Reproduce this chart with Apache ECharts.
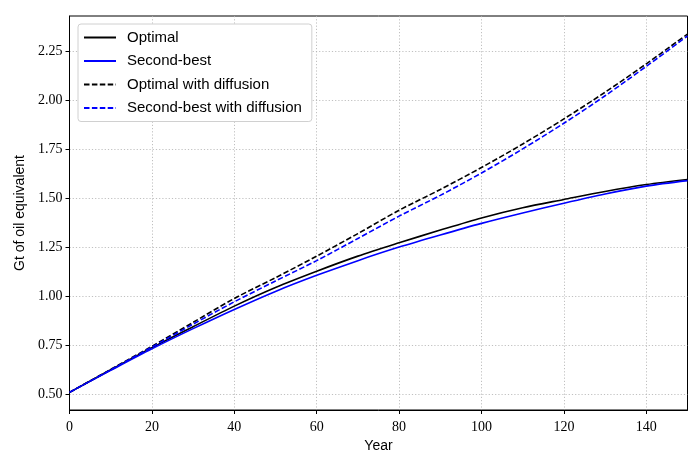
<!DOCTYPE html>
<html>
<head>
<meta charset="utf-8">
<script src="https://cdn.jsdelivr.net/npm/echarts@6/dist/echarts.min.js"></script>
<style>html,body{margin:0;padding:0;background:#fff}#c{width:696px;height:451px}</style>
</head>
<body>
<div id="c"></div>
<script>
const years = [0,10,20,30,40,50,60,70,80,90,100,110,120,130,140,150];
const optimal = [0.51,0.625,0.738,0.845,0.950,1.045,1.128,1.205,1.273,1.338,1.400,1.452,1.494,1.535,1.570,1.596];
const secondBest = [0.51,0.622,0.732,0.835,0.933,1.025,1.107,1.182,1.251,1.313,1.372,1.425,1.475,1.522,1.562,1.590];
const optimalDiff = [0.51,0.627,0.745,0.867,0.989,1.095,1.205,1.320,1.439,1.545,1.657,1.777,1.905,2.041,2.186,2.338];
const secondBestDiff = [0.51,0.625,0.741,0.858,0.972,1.078,1.182,1.295,1.409,1.515,1.629,1.752,1.883,2.023,2.173,2.328];
const xTicks = [0,20,40,60,80,100,120,140];
const yTicks = [0.5,0.75,1.0,1.25,1.5,1.75,2.0,2.25];

const pair = arr => years.map((y,i)=>[y,arr[i]]);
const serif = 'Liberation Serif';
const sans = 'Liberation Sans';
function mk(name, data, color, dashed){
  return {name, type:'line', data:pair(data), symbol:'none', smooth:0.3,
    lineStyle:{color, width:1.6, type: dashed ? [5.5,2.4] : 'solid'},
    itemStyle:{color}};
}
const chart = echarts.init(document.getElementById('c'), null, {renderer:'canvas'});
chart.setOption({
  animation:false,
  backgroundColor:'#fff',
  grid:{left:69.5, right:8.5, top:16, bottom:41, show:true, borderColor:'#000', borderWidth:1,
    backgroundColor:'transparent', containLabel:false, outerBoundsMode:'none'},
  legend:{
    orient:'vertical', left:78, top:24, padding:[6,10,6,5],
    backgroundColor:'#fff', borderColor:'#d0d0d0', borderWidth:1, borderRadius:3,
    itemWidth:32, itemHeight:14, itemGap:8.5,
    itemStyle:{opacity:0},
    textStyle:{fontFamily:sans, fontSize:15, color:'#000', padding:[0,0,0,6]},
    data:['Optimal','Second-best','Optimal with diffusion','Second-best with diffusion']
  },
  xAxis:{
    type:'value', min:0, max:150,
    name:'Year', nameLocation:'middle', nameGap:25,
    nameTextStyle:{fontFamily:sans, fontSize:14, color:'#000'},
    axisLine:{show:true, lineStyle:{color:'#000', width:1}},
    axisTick:{show:true, length:4, lineStyle:{color:'#000'}, customValues:xTicks},
    axisLabel:{fontFamily:serif, fontSize:14, color:'#000', margin:10, customValues:xTicks},
    splitLine:{show:true, lineStyle:{color:'#b0b0b0', type:[1.2,2], width:0.8}}
  },
  yAxis:{
    type:'value', min:0.42, max:2.43,
    name:'Gt of oil equivalent', nameLocation:'middle', nameGap:40,
    nameTextStyle:{fontFamily:sans, fontSize:14, color:'#000'},
    axisLine:{show:true, lineStyle:{color:'#000', width:1}},
    axisTick:{show:true, length:4, lineStyle:{color:'#000'}, customValues:yTicks},
    axisLabel:{fontFamily:serif, fontSize:14, color:'#000', margin:7, customValues:yTicks,
      formatter:v=>v.toFixed(2)},
    splitLine:{show:true, lineStyle:{color:'#b0b0b0', type:[1.2,2], width:0.8}}
  },
  series:[
    mk('Optimal', optimal, '#000000', false),
    mk('Second-best', secondBest, '#0000ff', false),
    mk('Optimal with diffusion', optimalDiff, '#000000', true),
    mk('Second-best with diffusion', secondBestDiff, '#0000ff', true)
  ]
});
</script>
</body>
</html>
